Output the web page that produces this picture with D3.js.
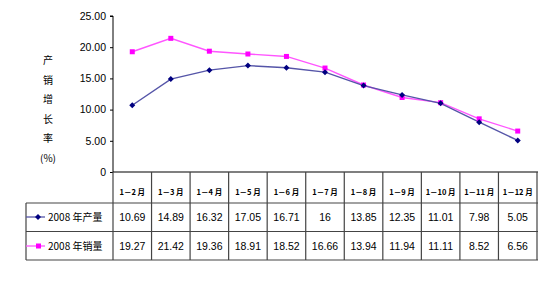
<!DOCTYPE html>
<html><head><meta charset="utf-8">
<script src="https://cdn.jsdelivr.net/npm/d3@7/dist/d3.min.js"></script>
<style>body{margin:0;background:#fff}svg{display:block}</style>
</head><body>
<svg id="c" width="554" height="282"></svg>
<script>
const categories = ["1－2 月","1－3 月","1－4 月","1－5 月","1－6 月","1－7 月","1－8 月","1－9 月","1－10 月","1－11 月","1－12 月"];
const production = [10.69,14.89,16.32,17.05,16.71,16,13.85,12.35,11.01,7.98,5.05];
const sales = [19.27,21.42,19.36,18.91,18.52,16.66,13.94,11.94,11.11,8.52,6.56];
const productionLabels = ["10.69","14.89","16.32","17.05","16.71","16","13.85","12.35","11.01","7.98","5.05"];
const salesLabels = ["19.27","21.42","19.36","18.91","18.52","16.66","13.94","11.94","11.11","8.52","6.56"];
const yTicks = [0,5,10,15,20,25];
const seriesNames = ["2008 年产量","2008 年销量"];
const yTitle = ["产","销","增","长","率","(%)"];

(function(){
const svg = d3.select("#c");
const pLeft = 113, pRight = 537, pTop = 16, pBottom = 172;
const x = d3.scaleBand().domain(categories).range([pLeft, pRight]);
const y = d3.scaleLinear().domain([0,25]).range([pBottom, pTop]);
const font = "'Liberation Sans', Arial, sans-serif";
const grid = "#444";
const diamond = "M0,-3L3,0L0,3L-3,0Z";

// y axis
const yAxis = d3.axisLeft(y).tickValues(yTicks).tickSize(3).tickPadding(4)
  .tickFormat(d => d === 0 ? "0" : d3.format(".2f")(d));
const ga = svg.append("g").attr("transform", `translate(${pLeft},0)`).call(yAxis);
ga.select(".domain").attr("stroke", "#000").attr("d", `M-3,${pTop}H0V${pBottom}`);
ga.selectAll(".tick line").attr("stroke", "#000");
ga.selectAll("text").attr("font-family", font).attr("font-size", 10.5).attr("fill", "#000");

// y title
svg.append("g").selectAll("text").data(yTitle).join("text")
  .attr("x", 48).attr("y", (d,i) => 64 + i*19.5)
  .attr("text-anchor", "middle")
  .attr("font-family", "'Noto Sans CJK SC', sans-serif").attr("font-size", 10)
  .text(d => d);

// table
const rowTop = [172, 203, 231.5, 260];
const tLeft = 26;
const tg = svg.append("g").attr("stroke", grid).attr("stroke-width", 1.2).attr("fill", "none");
tg.append("line").attr("x1", pLeft).attr("x2", pRight + 1).attr("y1", pBottom).attr("y2", pBottom).attr("stroke", "#000");
[rowTop[1], rowTop[2], rowTop[3]].forEach(yy => {
  tg.append("line").attr("x1", tLeft).attr("x2", pRight + 1).attr("y1", yy).attr("y2", yy);
});
const bounds = categories.map(c => x(c)).concat([pRight]);
bounds.forEach(bx => {
  tg.append("line").attr("x1", bx).attr("x2", bx).attr("y1", pBottom).attr("y2", rowTop[3]);
});
tg.append("line").attr("x1", tLeft).attr("x2", tLeft).attr("y1", rowTop[1]).attr("y2", rowTop[3]);

// header labels
svg.append("g").selectAll("text").data(categories).join("text")
  .attr("x", d => x(d) + x.bandwidth()/2).attr("y", 195)
  .attr("text-anchor", "middle").attr("font-family", "'Noto Sans CJK SC', sans-serif")
  .attr("font-size", 7.5).attr("font-weight", "bold").text(d => d);

// values rows
const rows = [productionLabels, salesLabels];
const rowY = [221, 250];
rows.forEach((r, i) => {
  svg.append("g").selectAll("text").data(r).join("text")
    .attr("x", (d,j) => x(categories[j]) + x.bandwidth()/2).attr("y", rowY[i])
    .attr("text-anchor", "middle").attr("font-family", font).attr("font-size", 10.5).text(d => d);
});

// legend
const colors = ["#000080", "#ff00ff"];
const lineColors = ["#5555a8", "#ff55ff"];
seriesNames.forEach((n, i) => {
  const ly = rowY[i] - 4;
  svg.append("line").attr("x1", tLeft).attr("x2", 45).attr("y1", ly).attr("y2", ly)
    .attr("stroke", lineColors[i]).attr("stroke-width", 1.3);
  if (i === 0) {
    svg.append("path").attr("d", diamond).attr("transform", `translate(38,${ly})`).attr("fill", colors[0]);
  } else {
    svg.append("rect").attr("x", 36).attr("y", ly - 2.5).attr("width", 5).attr("height", 5).attr("fill", colors[1]);
  }
  svg.append("text").attr("x", 48).attr("y", rowY[i]).attr("font-family", "'Noto Sans CJK SC', sans-serif")
    .attr("font-size", 10).text(n);
});

// lines
const cx = (d,i) => x(categories[i]) + x.bandwidth()/2;
const line = d3.line().x((d,i) => cx(d,i)).y(d => y(d));
svg.append("path").datum(sales).attr("d", line).attr("fill", "none").attr("stroke", lineColors[1]).attr("stroke-width", 1.4);
svg.append("path").datum(production).attr("d", line).attr("fill", "none").attr("stroke", lineColors[0]).attr("stroke-width", 1.4);

svg.append("g").selectAll("rect").data(sales).join("rect")
  .attr("x", (d,i) => cx(d,i) - 2.5).attr("y", d => y(d) - 2.5).attr("width", 5).attr("height", 5).attr("fill", colors[1]);
svg.append("g").selectAll("path").data(production).join("path")
  .attr("d", diamond)
  .attr("transform", (d,i) => `translate(${cx(d,i)},${y(d)})`).attr("fill", colors[0]);
})();
</script>
</body></html>
